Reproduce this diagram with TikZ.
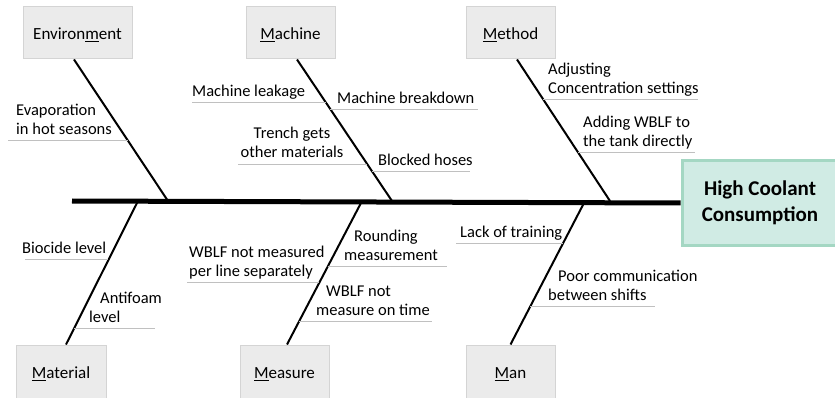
\documentclass[tikz,border=0pt]{standalone}
\usepackage{fontspec}
\setmainfont{Carlito}
\usetikzlibrary{calc}
\definecolor{boxgray}{HTML}{EBEBEB}
\definecolor{boxline}{HTML}{D4D4D4}
\definecolor{ribgray}{HTML}{C0C0C0}
\definecolor{headfill}{HTML}{D0EBE4}
\definecolor{headline}{HTML}{A4D7C3}

\begin{document}
\begin{tikzpicture}[
                  x = 1pt,
                  y = -1pt,
     catbox/.style = {draw=boxline, fill=boxgray, line width=1pt,
                      minimum height=52pt, text height=15pt, text depth=2pt,
                      font=\fontsize{17}{20}\selectfont},
     effect/.style = {draw=headline, fill=headfill, line width=3pt,
                      minimum width=156pt, minimum height=85pt, align=center,
                      font=\bfseries\fontsize{21}{26}\selectfont},
      cause/.style = {inner xsep=0pt, inner ysep=0.2pt, align=left,
                      font=\fontsize{16.5}{19}\selectfont,
                      execute at end node=\strut},
       bone/.style = {line width=2pt},
        rib/.style = {draw=ribgray, line width=1pt},
      spine/.style = {line width=5pt},
                    ]
\useasboundingbox (0,0) rectangle (835,398);

% the six categories
\node[catbox, minimum width=109pt] (env)  at (77.5,33)  {Environ\underline{m}ent};
\node[catbox, minimum width=89pt]  (mach) at (290.5,33) {\underline{M}achine};
\node[catbox, minimum width=89pt]  (meth) at (510.5,33) {\underline{M}ethod};
\node[catbox, minimum width=90pt, minimum height=54pt] (mat)  at (61,372)    {\underline{M}aterial};
\node[catbox, minimum width=89pt, minimum height=54pt] (meas) at (284.5,372) {\underline{M}easure};
\node[catbox, minimum width=89pt, minimum height=54pt] (man)  at (510.5,372) {\underline{M}an};

% points on the spine
\coordinate (tail)      at (72,201);
\coordinate (envhead)   at (168,201);
\coordinate (machhead)  at (392,201);
\coordinate (methhead)  at (610,201);
\coordinate (mathead)   at (138,201);
\coordinate (meashead)  at (362,201);
\coordinate (manhead)   at (585,201);

% bones
\draw[bone] ([xshift=-3.5pt]env.south) -- (envhead)
    coordinate[pos=.570] (env1);
\draw[bone] ([xshift=6.5pt]mach.south) -- (machhead)
    coordinate[pos=.303] (mach1) coordinate[pos=.352] (mach2)
    coordinate[pos=.739] (mach3) coordinate[pos=.789] (mach4);
\draw[bone] ([xshift=6.5pt]meth.south) -- (methhead)
    coordinate[pos=.282] (meth1) coordinate[pos=.655] (meth2);
\draw[bone] (mathead) -- ([xshift=5pt]mat.north)
    coordinate[pos=.410] (mat1) coordinate[pos=.889] (mat2);
\draw[bone] (meashead) -- ([xshift=2.5pt]meas.north)
    coordinate[pos=.569] (meas1) coordinate[pos=.458] (meas2)
    coordinate[pos=.840] (meas3);
\draw[bone] (manhead) -- (man.north)
    coordinate[pos=.299] (man1) coordinate[pos=.736] (man2);

% causes
\node[cause, anchor=south west] (evap)  at (16,0 |- env1)   {Evaporation\\in hot seasons};
\node[cause, anchor=south west] (leak)  at (192,0 |- mach1) {Machine leakage};
\node[cause, anchor=south west] (brk)   at (337,0 |- mach2) {Machine breakdown};
\node[cause, anchor=south, align=center] (trench) at (292,0 |- mach3) {Trench gets\\other materials};
\node[cause, anchor=south west] (hose)  at (378,0 |- mach4) {Blocked hoses};
\node[cause, anchor=south west] (adj)   at (548,0 |- meth1) {Adjusting\\Concentration settings};
\node[cause, anchor=south west] (add)   at (583,0 |- meth2) {Adding WBLF to\\the tank directly};
\node[cause, anchor=south west] (bio)   at (22,0 |- mat1)   {Biocide level};
\node[cause, anchor=south west] (foam)  at (89,0 |- mat2)   {\hspace{11pt}Antifoam\\level};
\node[cause, anchor=south west] (sep)   at (189,0 |- meas1) {WBLF not measured\\per line separately};
\node[cause, anchor=south west] (round) at (344,0 |- meas2) {\hspace{10pt}Rounding\\measurement};
\node[cause, anchor=south west] (late)  at (316,0 |- meas3) {\hspace{10pt}WBLF not\\measure on time};
\node[cause, anchor=south west] (train) at (460,0 |- man1)  {Lack of training};
\node[cause, anchor=south west] (comm)  at (548,0 |- man2)  {\hspace{10pt}Poor communication\\between shifts};

% underlines
\draw[rib] (8,0 |- env1) -- (env1);
\draw[rib] (192,0 |- mach1) -- (mach1);
\draw[rib] (mach2) -- (478,0 |- mach2);
\draw[rib] (238,0 |- mach3) -- (mach3);
\draw[rib] (mach4) -- (470,0 |- mach4);
\draw[rib] (meth1) -- (698,0 |- meth1);
\draw[rib] (meth2) -- (695,0 |- meth2);
\draw[rib] (25,0 |- mat1) -- (mat1);
\draw[rib] (mat2) -- (155,0 |- mat2);
\draw[rib] (187,0 |- meas1) -- (meas1);
\draw[rib] (meas2) -- (447,0 |- meas2);
\draw[rib] (meas3) -- (432,0 |- meas3);
\draw[rib] (456,0 |- man1) -- (man1);
\draw[rib] (man2) -- (655,0 |- man2);

% spine and head
\node[effect] (prob) at (760,203) {High Coolant\\Consumption};
\draw[spine] (tail) -- (prob.west);
\end{tikzpicture}
\end{document}
